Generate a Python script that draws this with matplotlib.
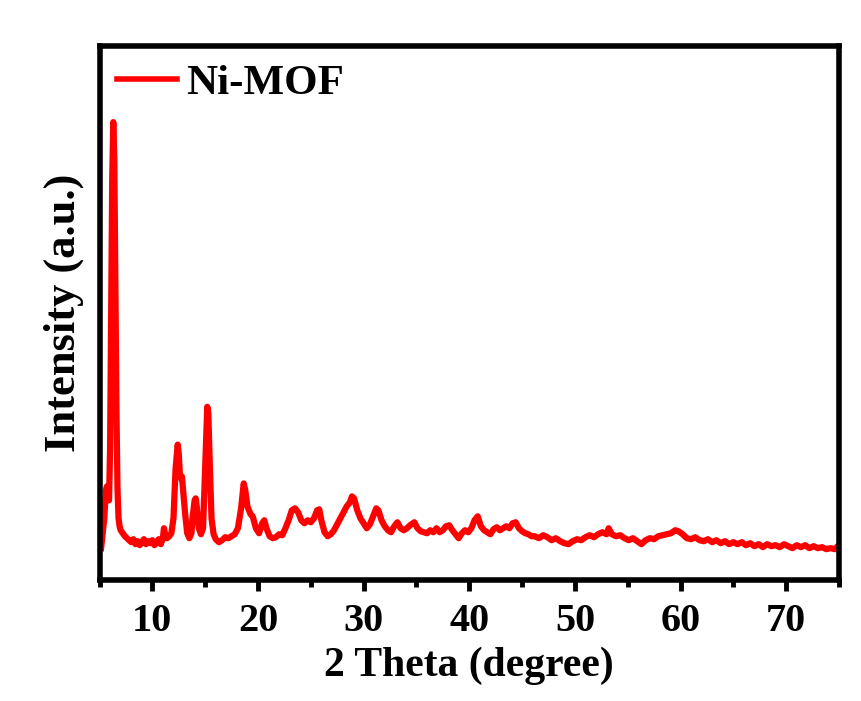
import matplotlib
matplotlib.use("Agg")
import matplotlib.pyplot as plt
from matplotlib.ticker import MultipleLocator

plt.rcParams['font.family'] = ['Liberation Serif', 'DejaVu Serif']
plt.rcParams['font.weight'] = 'bold'

two_theta = [
    5.15, 5.3, 5.45, 5.6, 5.7, 5.8, 5.9, 6.0, 6.1, 6.2, 6.3, 6.4, 6.5, 6.6, 6.7, 6.8, 6.9, 7.0, 7.2, 7.4, 7.6, 7.8,
    8.0, 8.2, 8.4, 8.6, 8.8, 9.0, 9.2, 9.4, 9.6, 9.8, 10.0, 10.2, 10.4, 10.6, 10.8, 11.0, 11.1, 11.2, 11.4, 11.6, 11.8,
    12.0, 12.2, 12.4, 12.5, 12.6, 12.7, 12.8, 12.9, 13.1, 13.3, 13.5, 13.7, 13.8, 14.0, 14.1, 14.2, 14.4, 14.6, 14.8,
    15.0, 15.2, 15.3, 15.45, 15.6, 15.8, 16.0, 16.3, 16.6, 16.9, 17.2, 17.5, 17.8, 18.1, 18.4, 18.65, 18.8, 19.0, 19.3,
    19.5, 19.8, 20.1, 20.4, 20.6, 20.8, 21.1, 21.4, 21.7, 22.0, 22.3, 22.6, 22.9, 23.2, 23.5, 23.8, 24.1, 24.4, 24.7,
    25.0, 25.3, 25.6, 25.8, 26.0, 26.3, 26.6, 26.9, 27.2, 27.5, 27.8, 28.1, 28.4, 28.7, 28.9, 29.1, 29.4, 29.7, 30.0,
    30.3, 30.6, 30.9, 31.2, 31.4, 31.7, 32.0, 32.3, 32.6, 32.9, 33.2, 33.5, 33.8, 34.1, 34.4, 34.8, 35.1, 35.4, 35.7,
    36.0, 36.3, 36.6, 36.9, 37.2, 37.5, 37.8, 38.1, 38.4, 38.7, 39.0, 39.3, 39.6, 39.9, 40.2, 40.5, 40.8, 41.1, 41.4,
    41.7, 42.0, 42.3, 42.6, 42.9, 43.2, 43.5, 43.8, 44.1, 44.4, 44.7, 45.0, 45.3, 45.6, 45.9, 46.2, 46.6, 47.0, 47.4,
    47.8, 48.2, 48.6, 49.0, 49.4, 49.8, 50.2, 50.6, 51.0, 51.4, 51.8, 52.2, 52.6, 53.0, 53.2, 53.5, 53.9, 54.3, 54.7,
    55.1, 55.5, 55.9, 56.3, 56.7, 57.1, 57.5, 57.9, 58.3, 58.7, 59.1, 59.5, 59.8, 60.2, 60.6, 61.0, 61.4, 61.8, 62.2,
    62.6, 63.0, 63.4, 63.8, 64.2, 64.6, 65.0, 65.4, 65.8, 66.2, 66.6, 67.0, 67.4, 67.8, 68.2, 68.6, 69.0, 69.4, 69.8,
    70.2, 70.6, 71.0, 71.4, 71.8, 72.2, 72.6, 73.0, 73.4, 73.8, 74.2, 74.6, 74.9,
]
intensity = [
    30, 45, 60, 88, 92, 80, 78, 130, 260, 400, 458, 420, 300, 170, 90, 60, 52, 48, 45, 42, 40, 38,
    36, 39, 34, 37, 33, 36, 39, 34, 37, 35, 38, 33, 36, 39, 34, 40, 50, 44, 40, 42, 45,
    60, 110, 134, 125, 105, 100, 102, 90, 65, 45, 40, 45, 60, 78, 80, 72, 50, 44, 50,
    110, 172, 165, 110, 60, 44, 39, 36, 38, 41, 40, 42, 44, 50, 70, 95, 88, 72, 64,
    62, 50, 45, 55, 58, 50, 42, 40, 41, 44, 43, 50, 58, 68, 70, 66, 58, 55, 58,
    56, 60, 68, 69, 58, 46, 42, 44, 48, 54, 60, 66, 72, 76, 82, 80, 68, 60, 55,
    50, 54, 62, 70, 68, 58, 52, 48, 46, 52, 56, 50, 48, 50, 53, 56, 50, 47, 46,
    45, 48, 46, 50, 46, 48, 52, 53, 48, 44, 40, 45, 48, 46, 50, 58, 62, 52, 48,
    46, 44, 49, 51, 48, 50, 52, 50, 55, 56, 50, 47, 45, 44, 42, 42, 40, 43, 41,
    38, 40, 37, 35, 34, 37, 39, 38, 41, 43, 41, 44, 46, 44, 50, 44, 42, 43, 40,
    38, 40, 37, 34, 38, 40, 39, 42, 43, 44, 45, 48, 47, 44, 40, 39, 41, 38, 37,
    39, 36, 38, 35, 37, 34, 36, 34, 36, 33, 35, 32, 34, 31, 34, 32, 33, 31, 34,
    32, 30, 33, 31, 33, 30, 32, 30, 31, 29, 30, 29, 32,
]

x_ticks = [10, 20, 30, 40, 50, 60, 70]
series_label = "Ni-MOF"

fig = plt.figure(figsize=(8.61, 7.01), dpi=100)
ax = fig.add_axes([0.1156, 0.1726, 0.9744 - 0.1156, 0.9337 - 0.1726])

ax.plot(two_theta, intensity, color='#FF0000', linewidth=4.5, label=series_label,
        solid_joinstyle='round')

ax.set_xlim(5, 75)
ax.set_ylim(-2, 534)
ax.set_xticks(x_ticks)
ax.xaxis.set_minor_locator(MultipleLocator(5))
ax.set_yticks([])

for sp in ax.spines.values():
    sp.set_linewidth(4)
ax.tick_params(axis='x', which='major', direction='out', length=8, width=3.5,
               labelsize=29, pad=8.5)
ax.tick_params(axis='x', which='minor', direction='out', length=5, width=3.5)
for lbl in ax.get_xticklabels():
    lbl.set_fontweight('bold')

ax.set_xlabel("2 Theta (degree)", fontsize=30, fontweight='bold', labelpad=5)
ax.set_ylabel("Intensity (a.u.)", fontsize=32, fontweight='bold', labelpad=11)

leg = ax.legend(loc='upper left', frameon=False, handlelength=1.4,
                handletextpad=0.2, borderaxespad=0.2, borderpad=0.2,
                prop={'size': 31, 'weight': 'bold'})
for h in leg.get_lines():
    h.set_linewidth(4)

fig.savefig("out.png", dpi=100, facecolor='white')
